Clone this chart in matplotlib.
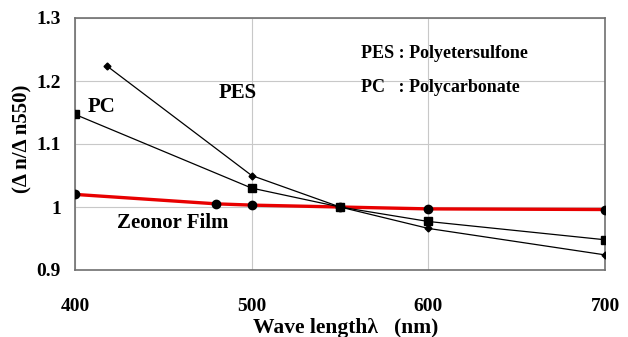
import numpy as np
import matplotlib
matplotlib.use("Agg")
from matplotlib import pyplot as plt

plt.rcParams['font.family'] = ['Liberation Serif', 'DejaVu Serif']
plt.rcParams['font.weight'] = 'bold'
plt.rcParams['axes.labelweight'] = 'bold'

# data
pes_x = [418, 500, 550, 600, 700]
pes_y = [1.224, 1.050, 1.000, 0.966, 0.924]

pc_x = [400, 500, 550, 600, 700]
pc_y = [1.147, 1.030, 1.000, 0.977, 0.948]

zeo_x = [400, 480, 500, 550, 600, 700]
zeo_y = [1.020, 1.005, 1.003, 1.000, 0.997, 0.996]

xticks = [400, 500, 600, 700]
yticks = [0.9, 1.0, 1.1, 1.2, 1.3]
ytick_labels = ["0.9", "1", "1.1", "1.2", "1.3"]

fig = plt.figure(figsize=(6.28, 3.37), dpi=100)
ax = fig.add_axes([75 / 628, 1 - 270 / 337, 530 / 628, 252 / 337])

ax.plot(zeo_x, zeo_y, color='#e80000', lw=2.4, zorder=3)
ax.plot(zeo_x, zeo_y, 'o', color='black', ms=6, zorder=4)
ax.plot(pes_x, pes_y, color='black', lw=0.9, marker='D', ms=3.5, zorder=5)
ax.plot(pc_x, pc_y, color='black', lw=0.9, marker='s', ms=5.5, zorder=5)

ax.set_xlim(400, 700)
ax.set_ylim(0.9, 1.3)
ax.set_xticks(xticks)
ax.set_yticks(yticks)
ax.set_yticklabels(ytick_labels)
ax.tick_params(axis='both', length=0, labelsize=14)
ax.tick_params(axis='x', pad=20)
ax.tick_params(axis='y', pad=10)
ax.grid(True, color='#c8c8c8', lw=0.8)
ax.set_axisbelow(True)
for s in ax.spines.values():
    s.set_color('#707070')
    s.set_linewidth(1.2)

ax.text(415, 1.159, "PC", fontsize=15, ha='center', va='center')
ax.text(492, 1.181, "PES", fontsize=15, ha='center', va='center')
ax.text(424, 0.975, "Zeonor Film", fontsize=15, ha='left', va='center')
ax.text(562, 1.244, "PES : Polyetersulfone", fontsize=13, ha='left', va='center')
ax.text(562, 1.190, "PC   : Polycarbonate", fontsize=13, ha='left', va='center')

ax.set_xlabel("Wave length\u03bb   (nm)", fontsize=15.5, va='center')
ax.set_ylabel("(\u0394 n/\u0394 n550)", fontsize=15, va='center')
ax.xaxis.set_label_coords(0.51, -58 / 252)
ax.yaxis.set_label_coords(-53 / 530, 0.52)

fig.savefig("out.png", dpi=100)
